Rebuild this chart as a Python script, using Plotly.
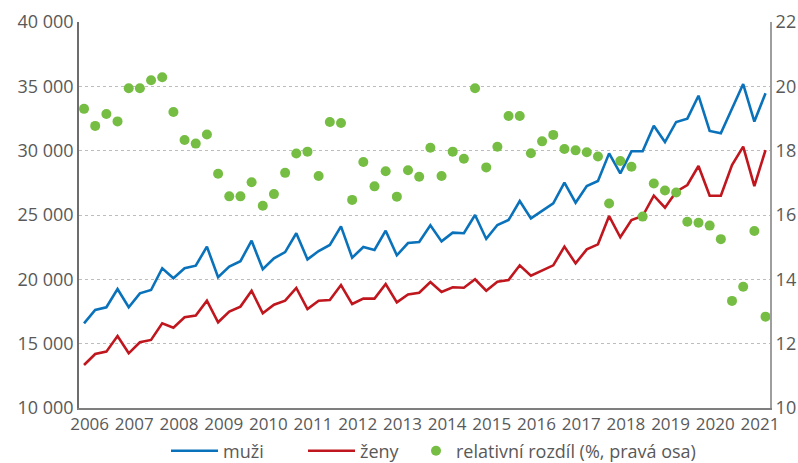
import plotly.graph_objects as go

years = list(range(2006, 2022))
quarters = [f"{y} Q{q}" for y in range(2006, 2022) for q in range(1, 5)][:62]

muzi = [16580, 17620, 17830, 19250, 17830, 18910, 19170, 20860, 20080, 20860, 21060, 22540,
        20160, 20990, 21410, 23000, 20780, 21630, 22120, 23580, 21550, 22200, 22670, 24120,
        21680, 22510, 22280, 23780, 21870, 22820, 22900, 24200, 22950, 23630, 23580, 25000,
        23140, 24220, 24610, 26090, 24740, 25340, 25910, 27510, 25960, 27250, 27640, 29790,
        28240, 29950, 29950, 31940, 30670, 32230, 32490, 34270, 31530, 31350, 33290, 35180,
        32260, 34460]

zeny = [13340, 14200, 14380, 15600, 14250, 15110, 15290, 16580, 16240, 17050, 17180, 18340,
        16660, 17490, 17880, 19110, 17360, 18030, 18340, 19330, 17690, 18340, 18390, 19560,
        18080, 18500, 18500, 19640, 18210, 18830, 18960, 19790, 19020, 19380, 19350, 20000,
        19120, 19820, 19950, 21090, 20280, 20670, 21090, 22540, 21240, 22330, 22720, 24920,
        23270, 24610, 24920, 26500, 25570, 26810, 27330, 28810, 26500, 26500, 28890, 30310,
        27250, 30050]

rozdil = [19.30, 18.77, 19.14, 18.91, 19.94, 19.94, 20.19, 20.28, 19.20, 18.33, 18.22, 18.50,
          17.28, 16.58, 16.58, 17.02, 16.29, 16.65, 17.31, 17.91, 17.97, 17.21, 18.89, 18.86,
          16.47, 17.65, 16.89, 17.36, 16.57, 17.39, 17.19, 18.09, 17.21, 17.97, 17.75, 19.94,
          17.48, 18.12, 19.08, 19.08, 17.92, 18.29, 18.49, 18.05, 18.01, 17.95, 17.82, 16.36,
          17.68, 17.50, 15.95, 16.98, 16.76, 16.70, 15.79, 15.76, 15.67, 15.25, 13.33, 13.77,
          15.50, 12.84]

x = list(range(len(muzi)))
tick_vals = [4 * k + 0.5 for k in range(len(years))]
tick_text = [str(y) for y in years]

left_ticks = [10000, 15000, 20000, 25000, 30000, 35000, 40000]
left_text = [f"{v:,}".replace(",", " ") for v in left_ticks]
right_ticks = [10, 12, 14, 16, 18, 20, 22]

FONT = "Open Sans"
GREY = "#595959"

fig = go.Figure()
fig.add_trace(go.Scatter(x=x, y=muzi, name="muži", mode="lines",
                         line=dict(color="#0A72BA", width=2.6), text=quarters, legend="legend"))
fig.add_trace(go.Scatter(x=x, y=zeny, name="ženy", mode="lines",
                         line=dict(color="#C0161E", width=2.6), text=quarters, legend="legend"))
fig.add_trace(go.Scatter(x=x, y=rozdil, name="relativní rozdíl (%, pravá osa)", mode="markers",
                         marker=dict(color="#76BD43", size=10), yaxis="y2", text=quarters,
                         legend="legend2"))

fig.update_layout(
    width=798, height=463,
    margin=dict(l=79, r=28, t=22, b=55, autoexpand=False),
    paper_bgcolor="white", plot_bgcolor="white",
    font=dict(family=FONT, size=17, color=GREY),
    showlegend=True,
    legend=dict(orientation="h", xref="container", yref="container",
                x=166 / 798, xanchor="left", y=1 - 451 / 463, yanchor="middle",
                font=dict(family=FONT, size=18, color=GREY), itemwidth=47,
                entrywidth=75, entrywidthmode="pixels",
                bgcolor="rgba(0,0,0,0)"),
    legend2=dict(orientation="h", xref="container", yref="container",
                 x=416 / 798, xanchor="left", y=1 - 451 / 463, yanchor="middle",
                 font=dict(family=FONT, size=18, color=GREY), itemwidth=30,
                 bgcolor="rgba(0,0,0,0)"),
    xaxis=dict(range=[-0.45, 61.4], tickmode="array", tickvals=tick_vals, ticktext=tick_text,
               showgrid=False, zeroline=False, showline=True, linecolor="#7f7f7f", linewidth=1.5,
               ticks="", tickfont=dict(size=17, color=GREY)),
    yaxis=dict(range=[10000, 40000], tickmode="array", tickvals=left_ticks, ticktext=left_text,
               showgrid=True, gridcolor="#BDBDBD", griddash="dot", gridwidth=1,
               zeroline=False, showline=True, linecolor="#6d6d6d", linewidth=1.5,
               ticks="", ticklen=0, tickfont=dict(size=18, color=GREY)),
    yaxis2=dict(range=[10, 22], tickmode="array", tickvals=right_ticks, overlaying="y",
                side="right", showgrid=False, zeroline=False, showline=True,
                linecolor="#9e9e9e", linewidth=2, ticks="", tickfont=dict(size=18, color=GREY)),
)

fig.write_html("out.html", config={"displayModeBar": False},
               post_script="document.body.style.margin='0';document.body.style.overflow='hidden';")
